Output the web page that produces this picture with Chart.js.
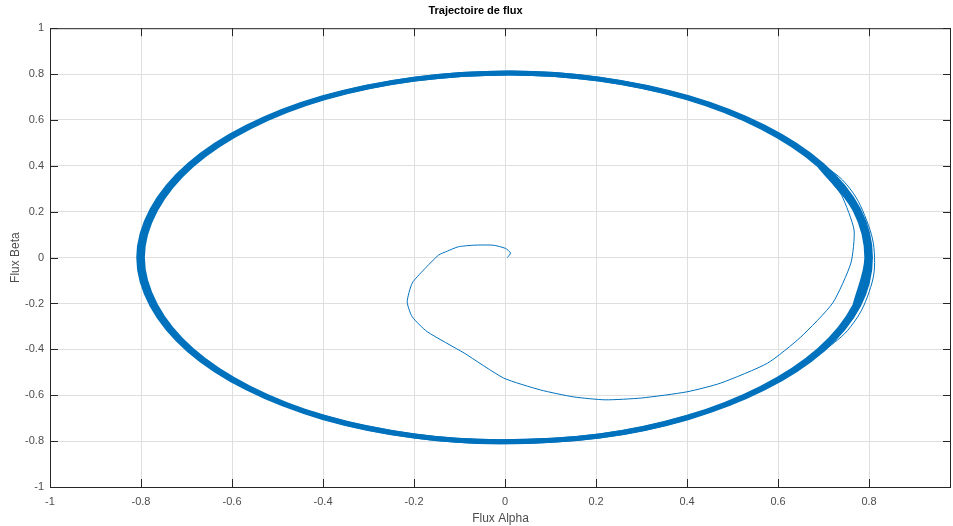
<!DOCTYPE html>
<html>
<head>
<meta charset="utf-8">
<script src="https://cdn.jsdelivr.net/npm/chart.js@4/dist/chart.umd.min.js"></script>
<style>
  html, body { margin: 0; padding: 0; background: #fff; }
  #wrap { width: 953px; height: 526px; }
</style>
</head>
<body>
<div id="wrap"><canvas id="fluxChart"></canvas></div>
<script>
// ----- Data -----
// steady-state orbit (thick band), counter-clockwise, overlapping a bit at the end
const orbitX = [0.777, 0.803, 0.777, 0.697, 0.569, 0.403, 0.208, 0.01, -0.2, -0.4, -0.567, -0.695, -0.776, -0.805,
  -0.776, -0.695, -0.567, -0.4, -0.2, -0.01, 0.208, 0.403, 0.569, 0.697, 0.777, 0.803, 0.777, 0.697];
const orbitY = [-0.208, 0, 0.208, 0.403, 0.569, 0.697, 0.778, 0.805, 0.778, 0.697, 0.569, 0.403, 0.208, 0,
  -0.208, -0.403, -0.569, -0.697, -0.778, -0.803, -0.778, -0.697, -0.569, -0.403, -0.208, 0, 0.208, 0.403];
// inner edge of the band (turns drift inward on the left and right sides)
const innerX = [0.769, 0.795, 0.769, 0.69, 0.563, 0.399, 0.206, 0.01, -0.198, -0.396, -0.561, -0.688, -0.768, -0.797,
  -0.768, -0.688, -0.561, -0.396, -0.198, -0.01, 0.206, 0.399, 0.563, 0.69, 0.769, 0.795, 0.769, 0.69];

// start-up transient (thin spiral)
const startX = [0.005, 0.012, 0.001, -0.026, -0.07, -0.103, -0.127, -0.146, -0.179, -0.204, -0.215, -0.204,
  -0.171, -0.09, -0.003, 0.078, 0.15, 0.22, 0.3, 0.4, 0.474, 0.577, 0.65, 0.72, 0.76, 0.767, 0.74, 0.708, 0.694];
const startY = [0, 0.02, 0.04, 0.054, 0.054, 0.047, 0.028, 0.011, -0.054, -0.111, -0.193, -0.258,
  -0.323, -0.416, -0.525, -0.577, -0.607, -0.62, -0.612, -0.585, -0.547, -0.46, -0.346, -0.198, -0.024, 0.12, 0.27, 0.352, 0.403];

// outer stray turns on the right side
const strayX = [0.68, 0.75, 0.795, 0.812, 0.8, 0.76, 0.7];
const strayY = [0.43, 0.32, 0.16, 0, -0.15, -0.3, -0.41];

const xTicks = [-1, -0.8, -0.6, -0.4, -0.2, 0, 0.2, 0.4, 0.6, 0.8];
const yTicks = [-1, -0.8, -0.6, -0.4, -0.2, 0, 0.2, 0.4, 0.6, 0.8, 1];

const blue = "#0072bd";
const ink = "#262626";

function toPoints(xs, ys) {
  return xs.map((x, i) => ({ x: x, y: ys[i] }));
}

function fmt(v) {
  return String(Math.round(v * 10) / 10);
}

// MATLAB-like box with inward ticks on all four sides
const boxPlugin = {
  id: "box",
  afterDraw(chart) {
    const { ctx, chartArea: a, scales } = chart;
    ctx.save();
    ctx.strokeStyle = ink;
    ctx.lineWidth = 1;
    ctx.strokeRect(a.left + 0.5, a.top + 0.5, a.right - a.left - 1, a.bottom - a.top);
    ctx.beginPath();
    xTicks.forEach(v => {
      const px = Math.round(scales.x.getPixelForValue(v)) + 0.5;
      ctx.moveTo(px, a.bottom); ctx.lineTo(px, a.bottom - 8);
      ctx.moveTo(px, a.top); ctx.lineTo(px, a.top + 8);
    });
    yTicks.forEach(v => {
      const py = Math.round(scales.y.getPixelForValue(v)) + 0.5;
      ctx.moveTo(a.left, py); ctx.lineTo(a.left + 8, py);
      ctx.moveTo(a.right, py); ctx.lineTo(a.right - 8, py);
    });
    ctx.stroke();
    ctx.restore();
  }
};

const ctx = document.getElementById("fluxChart").getContext("2d");
new Chart(ctx, {
  type: "scatter",
  data: {
    datasets: [
      {
        label: "orbit",
        data: toPoints(orbitX, orbitY),
        showLine: true,
        borderColor: blue,
        borderWidth: 5,
        tension: 0.34,
        pointRadius: 0
      },
      {
        label: "inner",
        data: toPoints(innerX, orbitY),
        showLine: true,
        borderColor: blue,
        borderWidth: 5,
        tension: 0.34,
        pointRadius: 0
      },
      {
        label: "stray",
        data: toPoints(strayX, strayY),
        showLine: true,
        borderColor: blue,
        borderWidth: 1,
        tension: 0.4,
        pointRadius: 0
      },
      {
        label: "transient",
        data: toPoints(startX, startY),
        showLine: true,
        borderColor: blue,
        borderWidth: 1,
        tension: 0.2,
        pointRadius: 0
      }
    ]
  },
  options: {
    responsive: true,
    maintainAspectRatio: false,
    animation: false,
    layout: { padding: { right: 2 } },
    plugins: {
      legend: { display: false },
      tooltip: { enabled: false },
      title: {
        display: true,
        text: "Trajectoire de flux",
        color: "#000",
        font: { family: "'Liberation Sans', Arial, sans-serif", size: 11, weight: "bold" },
        padding: { top: 4, bottom: 11 }
      }
    },
    scales: {
      x: {
        type: "linear",
        min: -1,
        max: 0.98,
        afterBuildTicks: s => { s.ticks = xTicks.map(v => ({ value: v })); },
        afterFit: s => { s.height = 39; },
        grid: { color: "#dfdfdf", drawTicks: false },
        border: { display: false },
        ticks: {
          color: "#4d4d4d",
          padding: 8,
          maxRotation: 0,
          autoSkip: false,
          font: { family: "'Liberation Sans', Arial, sans-serif", size: 11 },
          callback: v => fmt(v)
        },
        title: {
          display: true,
          text: "Flux Alpha",
          color: "#4d4d4d",
          padding: { top: 2, bottom: 0 },
          font: { family: "'Liberation Sans', Arial, sans-serif", size: 12 }
        }
      },
      y: {
        type: "linear",
        min: -1,
        max: 1,
        afterBuildTicks: s => { s.ticks = yTicks.map(v => ({ value: v })); },
        afterFit: s => { s.width = 50; },
        grid: { color: "#dfdfdf", drawTicks: false },
        border: { display: false },
        ticks: {
          color: "#4d4d4d",
          padding: 6,
          autoSkip: false,
          font: { family: "'Liberation Sans', Arial, sans-serif", size: 11 },
          callback: v => fmt(v)
        },
        title: {
          display: true,
          text: "Flux Beta",
          color: "#4d4d4d",
          padding: { top: 8, bottom: 0 },
          font: { family: "'Liberation Sans', Arial, sans-serif", size: 12 }
        }
      }
    }
  },
  plugins: [boxPlugin]
});
</script>
</body>
</html>
